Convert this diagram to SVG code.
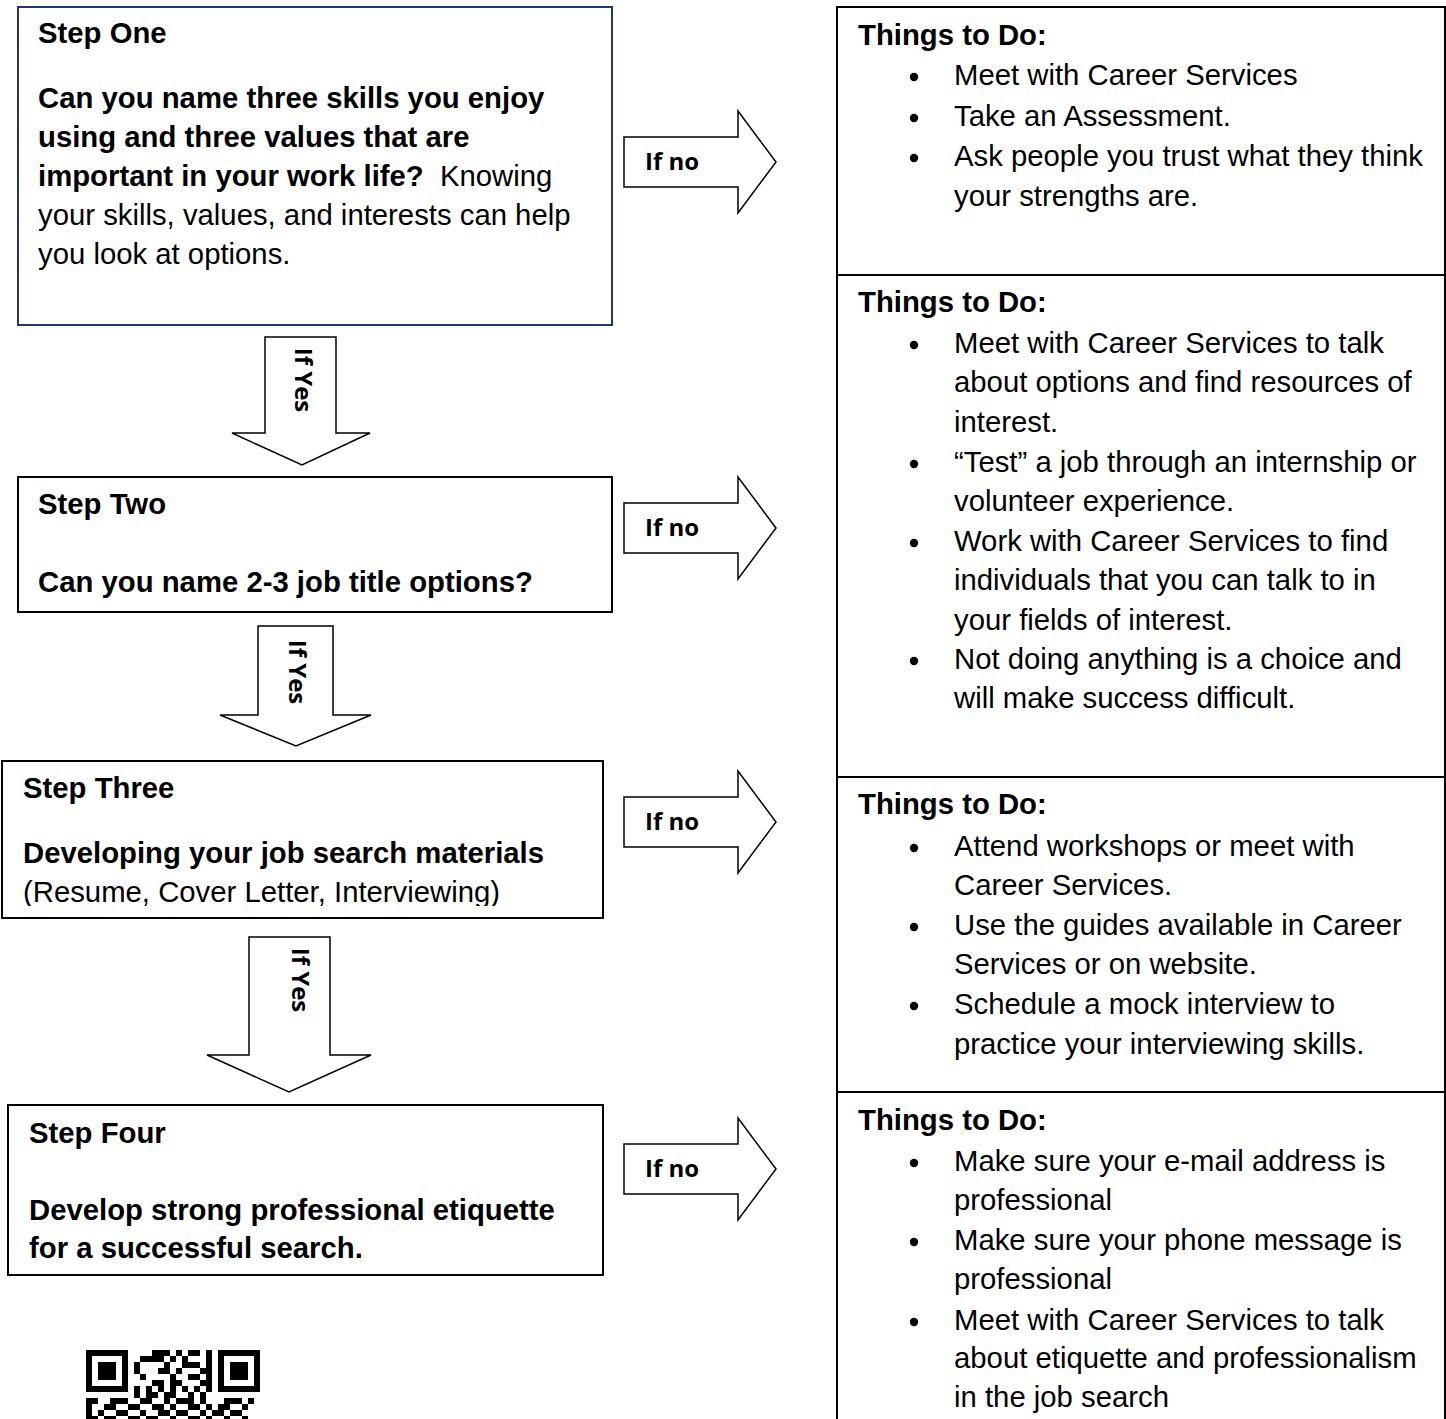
<svg xmlns="http://www.w3.org/2000/svg" width="1446" height="1419" viewBox="0 0 1446 1419">
<style>
  text { font-family: "Liberation Sans", Arial, sans-serif; font-size: 29.3px; fill: #000; }
  .b { font-weight: bold; }
  .box { fill: #fff; stroke: #000; stroke-width: 2; }
  .arrow { fill: #fff; stroke: #000; stroke-width: 1.5; stroke-linejoin: miter; }
  .lab { font-family: "Open Sans", "Liberation Sans", sans-serif; font-weight: bold; font-size: 24px; }
  .div { stroke: #000; stroke-width: 2; }
  .dot { fill: #000; }
</style>
<defs>
  <clipPath id="clip3"><rect x="0" y="760" width="610" height="146"/></clipPath>
  <circle id="bul" r="4.2" class="dot"/>
</defs>
<rect width="1446" height="1419" fill="#fff"/>

<g id="connectors">
  <path class="arrow" d="M624,137 H738 V111 L776,162 L738,213 V187 H624 Z"/>
  <path class="arrow" d="M624,503 H738 V477 L776,528 L738,579 V553 H624 Z"/>
  <path class="arrow" d="M624,797 H738 V771 L776,822 L738,873 V847 H624 Z"/>
  <path class="arrow" d="M624,1144 H738 V1118 L776,1169 L738,1220 V1194 H624 Z"/>
  <text class="lab" x="645" y="170">If no</text>
  <text class="lab" x="645" y="536">If no</text>
  <text class="lab" x="645" y="830">If no</text>
  <text class="lab" x="645" y="1177">If no</text>

  <path class="arrow" d="M265,337 H336 V433 H370 L302,465 L232,433 H265 Z"/>
  <path class="arrow" d="M258,626 H333 V715 H371 L296,746 L220,715 H258 Z"/>
  <path class="arrow" d="M249,937 H330 V1055 H371 L289,1092 L207,1055 H249 Z"/>
  <text class="lab" text-anchor="middle" transform="translate(303,380) rotate(90)" y="8.5">If Yes</text>
  <text class="lab" text-anchor="middle" transform="translate(297,672) rotate(90)" y="8.5">If Yes</text>
  <text class="lab" text-anchor="middle" transform="translate(300,980) rotate(90)" y="8.5">If Yes</text>
</g>

<g id="step1">
  <rect x="18" y="7" width="594" height="318" fill="#fff" stroke="#203864" stroke-width="2"/>
  <text class="b" x="38" y="43">Step One</text>
  <text class="b" x="38" y="108">Can you name three skills you enjoy</text>
  <text class="b" x="38" y="147">using and three values that are</text>
  <text x="38" y="186"><tspan class="b">important in your work life? </tspan><tspan dx="8">Knowing</tspan></text>
  <text x="38" y="225">your skills, values, and interests can help</text>
  <text x="38" y="264">you look at options.</text>
</g>

<g id="step2">
  <rect class="box" x="18" y="477" width="594" height="135"/>
  <text class="b" x="38" y="514">Step Two</text>
  <text class="b" x="38" y="592">Can you name 2-3 job title options?</text>
</g>

<g id="step3">
  <rect class="box" x="2" y="761" width="601" height="157"/>
  <text class="b" x="23" y="798">Step Three</text>
  <text class="b" x="23" y="863">Developing your job search materials</text>
  <text x="23" y="902" clip-path="url(#clip3)">(Resume, Cover Letter, Interviewing)</text>
</g>

<g id="step4">
  <rect class="box" x="8" y="1105" width="595" height="170"/>
  <text class="b" x="29" y="1143">Step Four</text>
  <text class="b" x="29" y="1220">Develop strong professional etiquette</text>
  <text class="b" x="29" y="1258">for a successful search.</text>
</g>

<g id="todo-column">
  <rect class="box" x="837" y="7" width="608" height="1430"/>
  <line class="div" x1="837" y1="275" x2="1446" y2="275"/>
  <line class="div" x1="837" y1="777" x2="1446" y2="777"/>
  <line class="div" x1="837" y1="1092" x2="1446" y2="1092"/>
</g>

<g id="todo1">
  <text class="b" x="858" y="45">Things to Do:</text>
  <use href="#bul" x="914" y="77"/>
  <text x="954" y="85">Meet with Career Services</text>
  <use href="#bul" x="914" y="118"/>
  <text x="954" y="126">Take an Assessment.</text>
  <use href="#bul" x="914" y="158"/>
  <text x="954" y="166">Ask people you trust what they think</text>
  <text x="954" y="206">your strengths are.</text>
</g>

<g id="todo2">
  <text class="b" x="858" y="312">Things to Do:</text>
  <use href="#bul" x="914" y="345"/>
  <text x="954" y="353">Meet with Career Services to talk</text>
  <text x="954" y="392">about options and find resources of</text>
  <text x="954" y="432">interest.</text>
  <use href="#bul" x="914" y="464"/>
  <text x="954" y="472">“Test” a job through an internship or</text>
  <text x="954" y="511">volunteer experience.</text>
  <use href="#bul" x="914" y="543"/>
  <text x="954" y="551">Work with Career Services to find</text>
  <text x="954" y="590">individuals that you can talk to in</text>
  <text x="954" y="630">your fields of interest.</text>
  <use href="#bul" x="914" y="661"/>
  <text x="954" y="669">Not doing anything is a choice and</text>
  <text x="954" y="708">will make success difficult.</text>
</g>

<g id="todo3">
  <text class="b" x="858" y="814">Things to Do:</text>
  <use href="#bul" x="914" y="848"/>
  <text x="954" y="856">Attend workshops or meet with</text>
  <text x="954" y="895">Career Services.</text>
  <use href="#bul" x="914" y="927"/>
  <text x="954" y="935">Use the guides available in Career</text>
  <text x="954" y="974">Services or on website.</text>
  <use href="#bul" x="914" y="1006"/>
  <text x="954" y="1014">Schedule a mock interview to</text>
  <text x="954" y="1054">practice your interviewing skills.</text>
</g>

<g id="todo4">
  <text class="b" x="858" y="1130">Things to Do:</text>
  <use href="#bul" x="914" y="1163"/>
  <text x="954" y="1171">Make sure your e-mail address is</text>
  <text x="954" y="1210">professional</text>
  <use href="#bul" x="914" y="1242"/>
  <text x="954" y="1250">Make sure your phone message is</text>
  <text x="954" y="1289">professional</text>
  <use href="#bul" x="914" y="1322"/>
  <text x="954" y="1330">Meet with Career Services to talk</text>
  <text x="954" y="1368">about etiquette and professionalism</text>
  <text x="954" y="1407">in the job search</text>
</g>

<g id="qr-code" fill="#000">
  <path fill-rule="evenodd" d="M86,1350 h42 v42 h-42 Z M92,1356 v30 h30 v-30 Z M98,1362 h18 v18 h-18 Z"/>
  <path fill-rule="evenodd" d="M218,1350 h42 v42 h-42 Z M224,1356 v30 h30 v-30 Z M230,1362 h18 v18 h-18 Z"/>
  <path d="
    M152,1350 h18 v6 h-18Z M176,1350 h6 v6 h-6Z M188,1350 h12 v6 h-12Z M206,1350 h6 v6 h-6Z
    M140,1356 h24 v6 h-24Z M170,1356 h6 v6 h-6Z M182,1356 h6 v6 h-6Z M206,1356 h6 v6 h-6Z
    M134,1362 h6 v6 h-6Z M164,1362 h6 v6 h-6Z M182,1362 h18 v6 h-18Z M206,1362 h6 v6 h-6Z
    M134,1368 h6 v6 h-6Z M158,1368 h12 v6 h-12Z M176,1368 h6 v6 h-6Z M200,1368 h12 v6 h-12Z
    M140,1374 h6 v6 h-6Z M170,1374 h6 v6 h-6Z M188,1374 h12 v6 h-12Z M206,1374 h6 v6 h-6Z
    M152,1380 h12 v6 h-12Z M170,1380 h12 v6 h-12Z M200,1380 h12 v6 h-12Z
    M134,1386 h6 v6 h-6Z M146,1386 h6 v6 h-6Z M158,1386 h6 v6 h-6Z M170,1386 h6 v6 h-6Z M182,1386 h6 v6 h-6Z M194,1386 h6 v6 h-6Z M206,1386 h6 v6 h-6Z
    M134,1392 h6 v6 h-6Z M146,1392 h12 v6 h-12Z M164,1392 h12 v6 h-12Z M188,1392 h6 v6 h-6Z M200,1392 h6 v6 h-6Z
    M86,1398 h12 v6 h-12Z M110,1398 h18 v6 h-18Z M140,1398 h12 v6 h-12Z M164,1398 h6 v6 h-6Z M176,1398 h18 v6 h-18Z M200,1398 h6 v6 h-6Z M224,1398 h18 v6 h-18Z M248,1398 h6 v6 h-6Z
    M86,1404 h6 v6 h-6Z M104,1404 h12 v6 h-12Z M128,1404 h12 v6 h-12Z M152,1404 h12 v6 h-12Z M170,1404 h6 v6 h-6Z M188,1404 h12 v6 h-12Z M206,1404 h6 v6 h-6Z M218,1404 h12 v6 h-12Z M242,1404 h6 v6 h-6Z
    M86,1410 h6 v6 h-6Z M98,1410 h6 v6 h-6Z M116,1410 h12 v6 h-12Z M140,1410 h6 v6 h-6Z M158,1410 h12 v6 h-12Z M176,1410 h12 v6 h-12Z M200,1410 h6 v6 h-6Z M212,1410 h12 v6 h-12Z M230,1410 h12 v6 h-12Z
    M86,1416 h12 v6 h-12Z M104,1416 h12 v6 h-12Z M128,1416 h12 v6 h-12Z M146,1416 h12 v6 h-12Z M170,1416 h6 v6 h-6Z M188,1416 h12 v6 h-12Z M206,1416 h6 v6 h-6Z M224,1416 h6 v6 h-6Z M242,1416 h6 v6 h-6Z"/>
</g>
</svg>
